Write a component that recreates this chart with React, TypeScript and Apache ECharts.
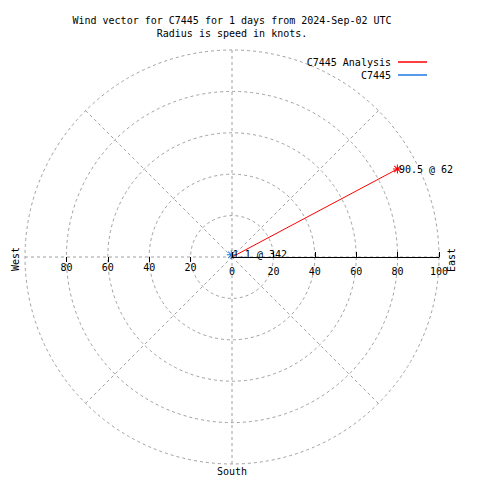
import React, { useEffect, useRef } from "react";
import * as echarts from "echarts";

const titleLines = [
  "Wind vector for C7445 for 1 days from 2024-Sep-02 UTC",
  "Radius is speed in knots.",
];
const seriesNames = ["C7445 Analysis", "C7445"];
const speeds = [90.5, 1.1];
const directions = [62, 342];
const colors = ["#ff0000", "#1e78e6"];
const eastTicks = [0, 20, 40, 60, 80, 100];
const westTicks = [20, 40, 60, 80];
const compassNames = { west: "West", east: "East", south: "South" };

const FONT = "'DejaVu Sans Mono', 'Liberation Mono', monospace";
const GRID = { color: "#a0a0a0", width: 1, type: [3, 3] as number[] };
const STAR =
  "path://M-4.5,-0.5H4.5V0.5H-4.5Z M-0.5,-4.5H0.5V4.5H-0.5Z M-3.5,-2.8L-2.8,-3.5L3.5,2.8L2.8,3.5Z M2.8,-3.5L3.5,-2.8L-2.8,3.5L-3.5,2.8Z";

const CX = 232;
const CY = 257;
const R = 207;

export default function App() {
  const ref = useRef<HTMLDivElement>(null);
  useEffect(() => {
    document.body.style.margin = "0";
    const chart = echarts.init(ref.current!, null, { renderer: "svg" });
    const polarBase = { center: [CX, CY], radius: R };
    const hiddenAngle = (i: number, start: number) => ({
      polarIndex: i,
      type: "value",
      min: 0,
      max: 360,
      startAngle: start,
      show: false,
    });
    const radBase = { type: "value", min: 0, max: 100, interval: 20 };
    const series: any[] = seriesNames.map((name, i) => ({
      name,
      type: "line",
      coordinateSystem: "polar",
      polarIndex: 0,
      color: colors[i],
      lineStyle: { color: colors[i], width: 1 },
      z: 5 + i,
      data: [
        { value: [0, directions[i]], symbol: "none" },
        {
          value: [speeds[i], directions[i]],
          symbol: STAR,
          symbolSize: 9,
          itemStyle: { color: colors[i] },
          label: {
            show: true,
            position: "right",
            distance: -3,
            formatter: `${speeds[i]} @ ${directions[i]}`,
            fontFamily: FONT,
            fontSize: 10,
            color: "#000",
          },
        },
      ],
    }));
    const option: any = {
      animation: false,
      backgroundColor: "#fff",
      textStyle: { fontFamily: FONT },
      polar: [polarBase, polarBase, polarBase, polarBase, polarBase],
      angleAxis: [
        {
          polarIndex: 0,
          type: "value",
          min: 0,
          max: 360,
          interval: 45,
          startAngle: 90,
          clockwise: true,
          axisLine: { show: false },
          axisTick: { show: false },
          axisLabel: { show: false },
          splitLine: { show: true, lineStyle: GRID },
        },
        hiddenAngle(1, 0),
        hiddenAngle(2, 0),
        hiddenAngle(3, 180),
        hiddenAngle(4, 180),
      ],
      radiusAxis: [
        {
          ...radBase,
          polarIndex: 0,
          axisLine: { show: false },
          axisTick: { show: false },
          axisLabel: { show: false },
          splitLine: { show: true, lineStyle: GRID },
        },
        {
          ...radBase,
          polarIndex: 1,
          z: 10,
          axisLine: { show: true, lineStyle: { color: "#000", width: 1 } },
          axisTick: { show: true, length: 5, lineStyle: { color: "#000" }, customValues: eastTicks },
          axisLabel: {
            show: true,
            margin: -9,
            verticalAlign: "top",
            customValues: eastTicks,
            fontFamily: FONT,
            fontSize: 10,
            color: "#000",
          },
          splitLine: { show: false },
        },
        {
          ...radBase,
          polarIndex: 2,
          z: 10,
          axisLine: { show: false },
          axisTick: { show: true, inside: true, length: 4, lineStyle: { color: "#000" }, customValues: eastTicks },
          axisLabel: { show: false },
          splitLine: { show: false },
        },
        {
          ...radBase,
          polarIndex: 3,
          z: 10,
          axisLine: { show: false },
          axisTick: { show: true, length: 5, lineStyle: { color: "#000" }, customValues: westTicks },
          axisLabel: {
            show: true,
            margin: 5,
            customValues: westTicks,
            fontFamily: FONT,
            fontSize: 10,
            color: "#000",
          },
          splitLine: { show: false },
        },
        {
          ...radBase,
          polarIndex: 4,
          z: 10,
          axisLine: { show: false },
          axisTick: { show: true, inside: true, length: 3, lineStyle: { color: "#000" }, customValues: westTicks },
          axisLabel: { show: false },
          splitLine: { show: false },
        },
      ],
      legend: seriesNames.map((name, i) => ({
        data: [name],
        right: 53,
        top: 57 + i * 13,
        align: "right",
        icon: "rect",
        itemWidth: 29,
        itemHeight: 1.5,
        itemGap: 0,
        padding: 0,
        selectedMode: false,
        textStyle: { fontFamily: FONT, fontSize: 10, color: "#000", padding: [0, 2, 0, 0] },
      })),
      graphic: [
        ...titleLines.map((t, i) => ({
          type: "text",
          x: 232,
          y: 20 + i * 13,
          style: {
            text: t,
            fontFamily: FONT,
            fontSize: 10,
            fill: "#000",
            align: "center",
            verticalAlign: "middle",
          },
        })),
        {
          type: "text",
          x: 15,
          y: 259,
          rotation: Math.PI / 2,
          style: { text: compassNames.west, fontFamily: FONT, fontSize: 10, fill: "#000", align: "center", verticalAlign: "middle" },
        },
        {
          type: "text",
          x: 451,
          y: 260,
          rotation: Math.PI / 2,
          style: { text: compassNames.east, fontFamily: FONT, fontSize: 10, fill: "#000", align: "center", verticalAlign: "middle" },
        },
        {
          type: "text",
          x: 232,
          y: 471,
          style: { text: compassNames.south, fontFamily: FONT, fontSize: 10, fill: "#000", align: "center", verticalAlign: "middle" },
        },
      ],
      series,
    };
    chart.setOption(option);
    return () => chart.dispose();
  }, []);
  return <div ref={ref} style={{ width: 480, height: 480 }} />;
}
